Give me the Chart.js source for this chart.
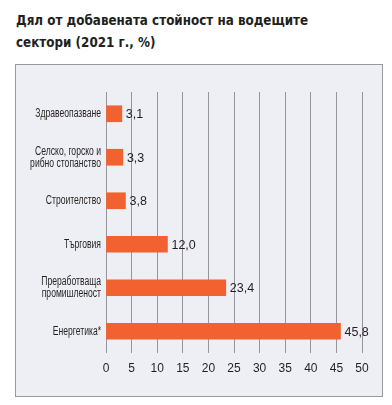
<!DOCTYPE html>
<html>
<head>
<meta charset="utf-8">
<script src="https://cdn.jsdelivr.net/npm/chart.js@4"></script>
<style>
  body { margin: 0; background: #fff; width: 392px; height: 405px; position: relative; overflow: hidden; }
  #title { position: absolute; left: 16px; top: 9px; font-family: "DejaVu Sans Condensed", sans-serif; font-weight: bold; font-size: 14px; line-height: 22px; color: #231f20; transform: scaleX(0.95); transform-origin: left top; white-space: nowrap; }
  #box { position: absolute; left: 15px; top: 64px; width: 366px; height: 331px; background: #eeeff5; border: 1px solid #9a9a9e; }
  #box canvas { display: block; }
</style>
</head>
<body>
<div id="title">Дял от добавената стойност на водещите<br>сектори (2021 г., %)</div>
<div id="box"><canvas id="chart" width="366" height="331"></canvas></div>
<script>
// Сектори и стойности
const sectors = [
    "Здравеопазване",
    ["Селско, горско и", "рибно стопанство"],
    "Строителство",
    "Търговия",
    ["Преработваща", "промишленост"],
    "Енергетика*"
];
const shares = [3.1, 3.3, 3.8, 12.0, 23.4, 45.8];
const xTicks = [0, 5, 10, 15, 20, 25, 30, 35, 40, 45, 50];

// Етикети със стойностите до всяка лента
const valueLabels = {
    id: "valueLabels",
    afterDatasetsDraw(chart) {
        const ctx = chart.ctx;
        const meta = chart.getDatasetMeta(0);
        ctx.save();
        ctx.font = "12.5px 'Liberation Sans', sans-serif";
        ctx.fillStyle = "#231f20";
        ctx.textAlign = "left";
        ctx.textBaseline = "middle";
        meta.data.forEach(function(bar, i) {
            ctx.fillText(shares[i].toFixed(1).replace(".", ","), bar.x + 4, bar.y + 1);
        });
        ctx.restore();
    }
};

// Имената на секторите - сбит шрифт (няма condensed шрифт, затова мащабираме)
const narrowLabels = {
    id: "narrowLabels",
    afterDraw(chart) {
        const ctx = chart.ctx;
        const yScale = chart.scales.y;
        const right = yScale.right - 5;
        ctx.save();
        ctx.font = "12px 'Liberation Sans', sans-serif";
        ctx.fillStyle = "#231f20";
        ctx.textAlign = "right";
        ctx.textBaseline = "middle";
        sectors.forEach(function(label, i) {
            const lines = Array.isArray(label) ? label : [label];
            const y = yScale.getPixelForValue(i);
            const lh = 12;
            lines.forEach(function(line, j) {
                const ly = y + (j - (lines.length - 1) / 2) * lh;
                ctx.save();
                ctx.translate(right, ly);
                ctx.scale(0.715, 1);
                ctx.fillText(line, 0, 0);
                ctx.restore();
            });
        });
        ctx.restore();
    }
};

const ctx = document.getElementById("chart").getContext("2d");
new Chart(ctx, {
    type: "bar",
    data: {
        labels: sectors,
        datasets: [{
            data: shares,
            backgroundColor: "#f26130",
            borderWidth: 0,
            barThickness: 16
        }]
    },
    options: {
        indexAxis: "y",
        responsive: false,
        animation: false,
        layout: { padding: { left: 0, right: 20, top: 27, bottom: 0 } },
        plugins: {
            legend: { display: false },
            tooltip: { enabled: false }
        },
        scales: {
            x: {
                min: 0,
                max: 50,
                afterBuildTicks: function(scale) {
                    scale.ticks = xTicks.map(v => ({ value: v }));
                },
                afterFit: function(scale) { scale.height = 43; },
                grid: { color: "#95969b", lineWidth: 1, drawTicks: false },
                border: { display: false },
                ticks: {
                    padding: 8,
                    color: "#231f20",
                    font: { family: "'Liberation Sans', sans-serif", size: 12 }
                }
            },
            y: {
                afterFit: function(scale) { scale.width = 90; },
                grid: { display: false },
                border: { display: false },
                ticks: { display: false }
            }
        }
    },
    plugins: [valueLabels, narrowLabels]
});
</script>
</body>
</html>
